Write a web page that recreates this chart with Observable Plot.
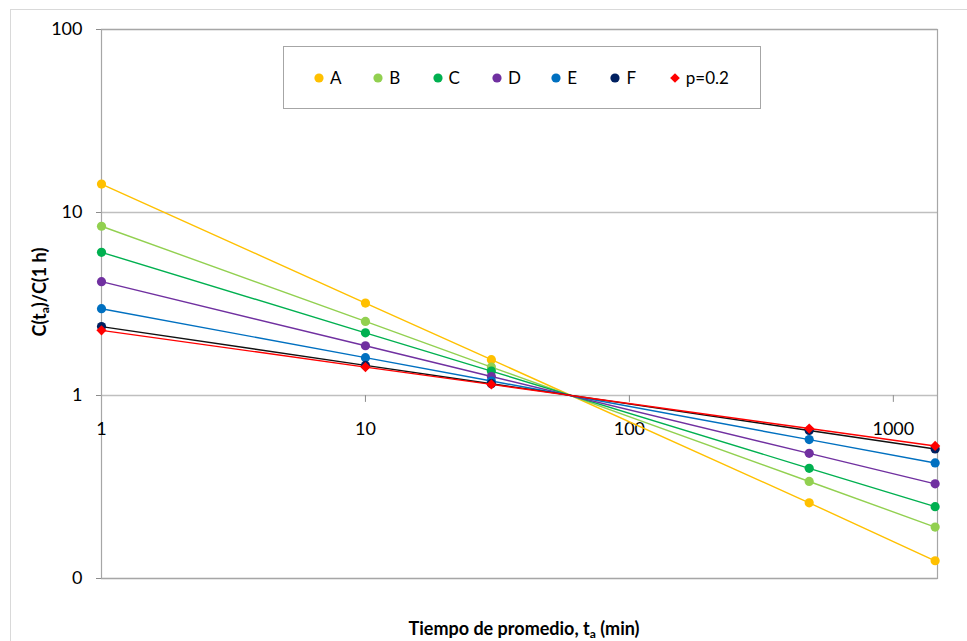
<!DOCTYPE html>
<html>
<head>
<meta charset="utf-8">
<script src="https://cdn.jsdelivr.net/npm/d3@7"></script>
<script src="https://cdn.jsdelivr.net/npm/@observablehq/plot@0.6"></script>
<style>
  body { margin: 0; background: #fff; font-family: Lato, "Open Sans", sans-serif; }
  #wrap { position: relative; width: 967px; height: 641px; overflow: hidden; background: #fff; }
  #outer { position: absolute; left: 10px; top: 9px; width: 1000px; height: 700px; border: 1px solid #d9d9d9; box-sizing: border-box; }
  #chart { position: absolute; left: 0; top: 0; }
  #legend { position: absolute; left: 283px; top: 46px; width: 478px; height: 63px; box-sizing: border-box;
            border: 1px solid #a6a6a6; background: #fff; display: flex; align-items: center; padding-left: 30px; }
  .item { width: 59.3px; display: flex; align-items: center; font-size: 17px; flex: none; }
  .item svg { margin-right: 6px; }
  .ytitle { position: absolute; left: 40px; top: 292px; transform: translate(-50%, -50%) rotate(-90deg);
            font-weight: bold; font-size: 18px; white-space: nowrap; }
  .xtitle { position: absolute; left: 524px; top: 629px; transform: translate(-50%, -50%);
            font-weight: bold; font-size: 18px; white-space: nowrap; }
  sub { font-size: 12px; vertical-align: -3px; }
</style>
</head>
<body>
<div id="wrap">
  <div id="outer"></div>
  <div id="chart"></div>
  <div id="legend"></div>
  <div class="ytitle">C(t<sub>a</sub>)/C(1 h)</div>
  <div class="xtitle">Tiempo de promedio, t<sub>a</sub> (min)</div>
</div>
<script>
// Data
const times = [1, 10, 30, 480, 1440];
const seriesNames = ["A", "B", "C", "D", "E", "F", "p=0.2"];
const valuesA = [14.3, 3.20, 1.57, 0.259, 0.125];
const valuesB = [8.41, 2.54, 1.43, 0.339, 0.191];
const valuesC = [6.06, 2.20, 1.36, 0.400, 0.247];
const valuesD = [4.19, 1.87, 1.27, 0.483, 0.329];
const valuesE = [2.98, 1.61, 1.20, 0.574, 0.428];
const valuesF = [2.38, 1.46, 1.16, 0.644, 0.510];
const valuesP = [2.27, 1.43, 1.15, 0.660, 0.530];
const markerColors = ["#FFC000", "#92D050", "#00B050", "#7030A0", "#0070C0", "#002060", "#FF0000"];
const lineColors   = ["#FFC000", "#92D050", "#00B050", "#7030A0", "#0070C0", "#111111", "#FF0000"];
const markerSymbols = ["circle", "circle", "circle", "circle", "circle", "circle", "diamond2"];
const yTicks = [0.1, 1, 10, 100];
const yTickLabels = ["0", "1", "10", "100"];
const xTicks = [1, 10, 100, 1000];
const xTickLabels = ["1", "10", "100", "1000"];

const allValues = [valuesA, valuesB, valuesC, valuesD, valuesE, valuesF, valuesP];
const rows = [];
seriesNames.forEach((s, i) => times.forEach((t, j) => rows.push({series: s, t, v: allValues[i][j]})));

const marks = [
  Plot.gridY(yTicks, {stroke: "#bfbfbf", strokeOpacity: 1, strokeWidth: 1.5}),
  Plot.frame({stroke: "#a6a6a6", strokeWidth: 1.2}),
  Plot.axisY(yTicks, {tickSize: 5, tickPadding: 14, stroke: "#8c8c8c", label: null,
                      tickFormat: d => yTickLabels[yTicks.indexOf(d)], fontSize: 18}),
  Plot.vector(xTicks.slice(1), {x: d => d, y: 1, length: 6, rotate: 180, anchor: "start", stroke: "#8c8c8c", strokeWidth: 1,
    shape: {draw(context, l) { context.moveTo(0, 0); context.lineTo(0, -l); }}}),
  Plot.text(xTicks, {x: d => d, y: 1, dy: 34, text: d => xTickLabels[xTicks.indexOf(d)], fontSize: 18, fill: "#000"})
];
seriesNames.forEach((s, i) => {
  const data = rows.filter(r => r.series === s);
  marks.push(Plot.line(data, {x: "t", y: "v", stroke: lineColors[i], strokeWidth: 1.4}));
  marks.push(Plot.dot(data, {x: "t", y: "v", fill: markerColors[i], stroke: "none",
                             symbol: markerSymbols[i], r: 4.6}));
});

const chart = Plot.plot({
  width: 967, height: 641,
  marginLeft: 101, marginRight: 30, marginTop: 29, marginBottom: 63,
  style: {fontFamily: "Lato, 'Open Sans', sans-serif", fontSize: "18px", color: "#000", background: "transparent"},
  x: {type: "log", domain: [1, 1470], axis: null},
  y: {type: "log", domain: [0.1, 100]},
  marks
});
document.getElementById("chart").appendChild(chart);

// Legend
const legend = document.getElementById("legend");
seriesNames.forEach((s, i) => {
  const item = document.createElement("div");
  item.className = "item";
  const sym = markerSymbols[i] === "circle"
    ? `<svg width="10" height="10"><circle cx="5" cy="5" r="4.6" fill="${markerColors[i]}"/></svg>`
    : `<svg width="10" height="10"><path d="${d3.symbol(d3.symbolDiamond2, 60)()}" transform="translate(5,5)" fill="${markerColors[i]}"/></svg>`;
  item.innerHTML = sym + `<span>${s}</span>`;
  legend.appendChild(item);
});
</script>
</body>
</html>
